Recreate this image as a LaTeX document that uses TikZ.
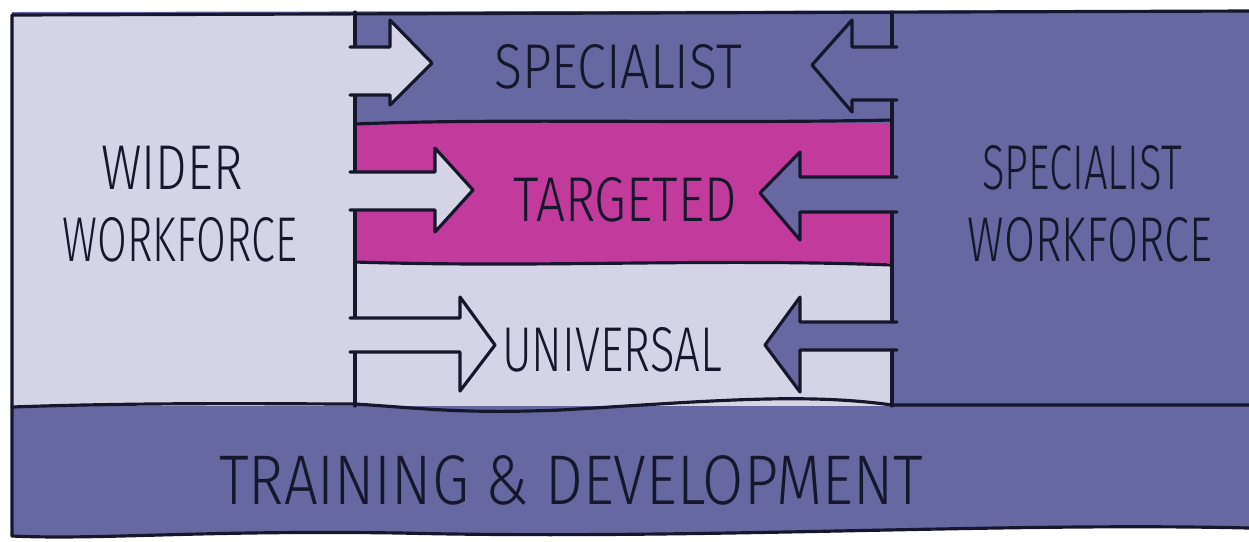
\documentclass[tikz,border=0pt]{standalone}
\usepackage{fontspec}
\setmainfont{Fira Sans}[UprightFont=* Light]
\usepackage{tikz}

\definecolor{lav}{HTML}{D5D4E6}
\definecolor{slate}{HTML}{6767A1}
\definecolor{magent}{HTML}{C13A9C}
\definecolor{ink}{HTML}{16162C}

\newcommand{\hand}[2][0.8]{\scalebox{#1}[1]{#2}}

\begin{document}
\begin{tikzpicture}
	[x=0.01cm,y=-0.01cm,
	 every node/.style={inner sep=0pt,text=ink,font=\fontsize{18}{22}\selectfont},
	 edge/.style={draw=ink,line width=0.9pt,line join=round,line cap=round}]
	\useasboundingbox (0,0) rectangle (1249,541);

	% regions
	\fill[slate] (12,12) -- (1249,10) -- (1249,528) .. controls (1000,522) and (700,540) .. (400,533) .. controls (200,530) and (100,540) .. (12,536) -- cycle;
	\fill[lav] (12,15) rectangle (355,406);
	\fill[slate] (355,12) rectangle (892,123);
	\fill[magent] (355,123) rectangle (892,263);
	\fill[lav] (355,263) rectangle (892,406);

	% outlines
	\draw[edge] (12,536) -- (12,15) -- (1249,11);
	\draw[edge] (355,12) -- (355,406);
	\draw[edge] (892,12) -- (892,406);
	\draw[edge] (355,124) .. controls (500,118) and (700,124) .. (892,120);
	\draw[edge] (355,262) .. controls (550,268) and (700,258) .. (892,265);
	\draw[edge] (12,407) .. controls (150,402) and (300,404) .. (355,404)
		.. controls (420,408) and (460,414) .. (560,410)
		.. controls (700,402) and (800,392) .. (892,405) -- (1249,405);
	\draw[edge] (12,536) .. controls (100,540) and (200,530) .. (400,533)
		.. controls (700,540) and (1000,522) .. (1249,528);

	% arrows from the wider workforce
	\foreach \st/\sb/\hx/\ht/\hb/\tx/\ty in {47/95/390/20/105/432/63, 172/210/435/148/232/473/190, 318/352/460/297/391/495/345}
	\filldraw[lav,edge] (350,\st) -- (\hx,\st) -- (\hx,\ht) -- (\tx,\ty) -- (\hx,\hb) -- (\hx,\sb) -- (350,\sb);

	% arrows from the specialist workforce
	\foreach \st/\sb/\hx/\ht/\hb/\tx/\ty in {47/100/852/20/112/812/65, 177/212/800/152/240/760/193, 322/350/800/297/392/765/345}
	\filldraw[slate,edge] (897,\st) -- (\hx,\st) -- (\hx,\ht) -- (\tx,\ty) -- (\hx,\hb) -- (\hx,\sb) -- (897,\sb);

	% labels
	\node (specT) at (618,67) {\hand[0.82]{SPECIALIST}};
	\node (targT) at (625,200) {\hand[0.81]{TARGETED}};
	\node (univT) at (612,350) {\hand[0.72]{UNIVERSAL}};
	\node (wider) at (172,168) {\hand[0.79]{WIDER}};
	\node (wfL) at (180,240) {\hand[0.68]{WORKFORCE}};
	\node (specR) at (1082,168) {\hand[0.66]{SPECIALIST}};
	\node (wfR) at (1090,240) {\hand[0.71]{WORKFORCE}};
	\node[font=\fontsize{20}{24}\selectfont] (train) at (571,480) {\hand[0.85]{TRAINING \& DEVELOPMENT}};

\end{tikzpicture}
\end{document}
